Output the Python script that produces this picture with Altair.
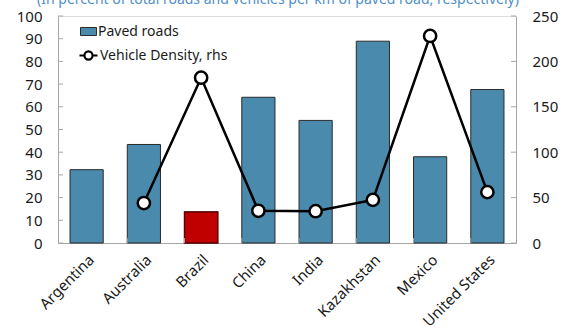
import altair as alt
import pandas as pd

countries = ["Argentina", "Australia", "Brazil", "China", "India", "Kazakhstan", "Mexico", "United States"]
paved = [32.3, 43.4, 13.7, 64.2, 54.0, 88.9, 38.0, 67.6]
density = [None, 44, 182, 35.5, 35, 47.5, 228, 56]
left_ticks = list(range(0, 101, 10))
right_ticks = list(range(0, 251, 50))
title_text = "(In percent of total roads and vehicles per km of paved road, respectively)"

df = pd.DataFrame({
    "country": countries,
    "paved": paved,
    "density": density,
    "s1": "Paved roads",
    "s2": "Vehicle Density, rhs",
})

FONT = "Noto Sans"
GRID = "#a6a6a6"
W, H = 458, 227
xscale = alt.Scale(paddingInner=0.42, paddingOuter=0.21)
x_axis = alt.Axis(labelAngle=-45, labelAlign="right", labelBaseline="top",
                  labelFontSize=15, labelFont=FONT, labelColor="#1a1a1a",
                  domainColor=GRID, ticks=False, labelPadding=9, labelOverlap=False)
left_axis = alt.Axis(values=left_ticks, grid=False, ticks=False, labelOverlap=False,
                     domainColor=GRID, labelFontSize=15,
                     labelFont=FONT, labelColor="#1a1a1a", labelPadding=16)
right_axis = alt.Axis(orient="right", values=right_ticks, grid=False, ticks=False, labelOverlap=False,
                      domainColor=GRID, labelFontSize=15, labelFont=FONT,
                      labelColor="#1a1a1a", labelPadding=16)
lscale = alt.Scale(domain=[0, 100], nice=False)
rscale = alt.Scale(domain=[0, 250], nice=False)


def X(**kw):
    return alt.X("country:N", sort=countries, title=None, scale=xscale, axis=x_axis, **kw)


bars = alt.Chart(df).mark_bar(stroke="#2b2b2b", strokeWidth=1).encode(
    x=X(),
    y=alt.Y("paved:Q", title=None, scale=lscale, axis=left_axis),
    fill=alt.condition(alt.datum.country == "Brazil", alt.value("#c00000"),
                       alt.Fill("s1:N", scale=alt.Scale(domain=["Paved roads"], range=["#4a8aac"]),
                                legend=alt.Legend(title=None, orient="none", legendX=22, legendY=7,
                                                  symbolType="M-1,-0.5H1V0.5H-1Z", symbolSize=256,
                                                  symbolStrokeColor="#2b2b2b", symbolStrokeWidth=1,
                                                  labelFontSize=14, labelFont=FONT, labelColor="#1a1a1a",
                                                  labelOffset=1, padding=0))),
)

brazil_stroke = alt.Chart(df).transform_filter(alt.datum.country == "Brazil").mark_bar(
    fill="#c00000", stroke="#600000", strokeWidth=1.5).encode(
    x=X(),
    y=alt.Y("paved:Q", title=None, scale=lscale, axis=left_axis),
)

lt_df = pd.DataFrame({"v": left_ticks})
left_tick_marks = alt.Chart(lt_df).mark_rule(color=GRID, strokeWidth=1).encode(
    y=alt.Y("v:Q", title=None, scale=lscale, axis=left_axis), x=alt.value(0), x2=alt.value(5))

xt_df = pd.DataFrame({"country": countries[1:]})
x_tick_marks = alt.Chart(xt_df).mark_rule(color=GRID, strokeWidth=1).encode(
    x=X(bandPosition=0), y=alt.value(H), y2=alt.value(H - 5))

line_df = df.dropna(subset=["density"])
stroke_enc = alt.Stroke("s2:N", scale=alt.Scale(domain=["Vehicle Density, rhs"], range=["#000000"]),
                        legend=alt.Legend(title=None, orient="none", legendX=20, legendY=29,
                                          symbolType="M-1,0H-0.45M0.45,0H1M-0.45,0A0.45,0.45 0 1,0 0.45,0A0.45,0.45 0 1,0 -0.45,0Z",
                                          symbolSize=324, symbolFillColor="white",
                                          symbolStrokeColor="black", symbolStrokeWidth=2.2,
                                          labelFontSize=14, labelFont=FONT, labelColor="#1a1a1a",
                                          labelOffset=1, padding=0))
line = alt.Chart(line_df).mark_line(strokeWidth=2.5).encode(
    x=X(), y=alt.Y("density:Q", title=None, scale=rscale, axis=right_axis), stroke=stroke_enc)
points = alt.Chart(line_df).mark_point(filled=True, fill="white", size=150, strokeWidth=2.5, opacity=1).encode(
    x=X(), y=alt.Y("density:Q", title=None, scale=rscale, axis=right_axis), stroke=stroke_enc)

rt_df = pd.DataFrame({"v": right_ticks})
right_tick_marks = alt.Chart(rt_df).mark_rule(color=GRID, strokeWidth=1).encode(
    y=alt.Y("v:Q", title=None, scale=rscale, axis=right_axis), x=alt.value(W - 5), x2=alt.value(W))

title_df = pd.DataFrame({"t": [title_text]})
title = alt.Chart(title_df).mark_text(font=FONT, fontSize=14, color="#4f8fc7", baseline="alphabetic",
                                      align="center").encode(
    text="t:N", x=alt.value(220), y=alt.value(-12))

left = alt.layer(bars, brazil_stroke, left_tick_marks, x_tick_marks)
right = alt.layer(line, points, right_tick_marks)

chart = alt.layer(left, right, title).resolve_scale(y="independent").properties(
    width=W, height=H,
    padding={"left": 58, "top": 16, "right": 47, "bottom": 88},
    autosize=alt.AutoSizeParams(type="none"),
).configure_view(stroke=GRID, strokeWidth=1).configure(background="white")

chart.save("out.html", embed_options={"renderer": "svg", "actions": False})
